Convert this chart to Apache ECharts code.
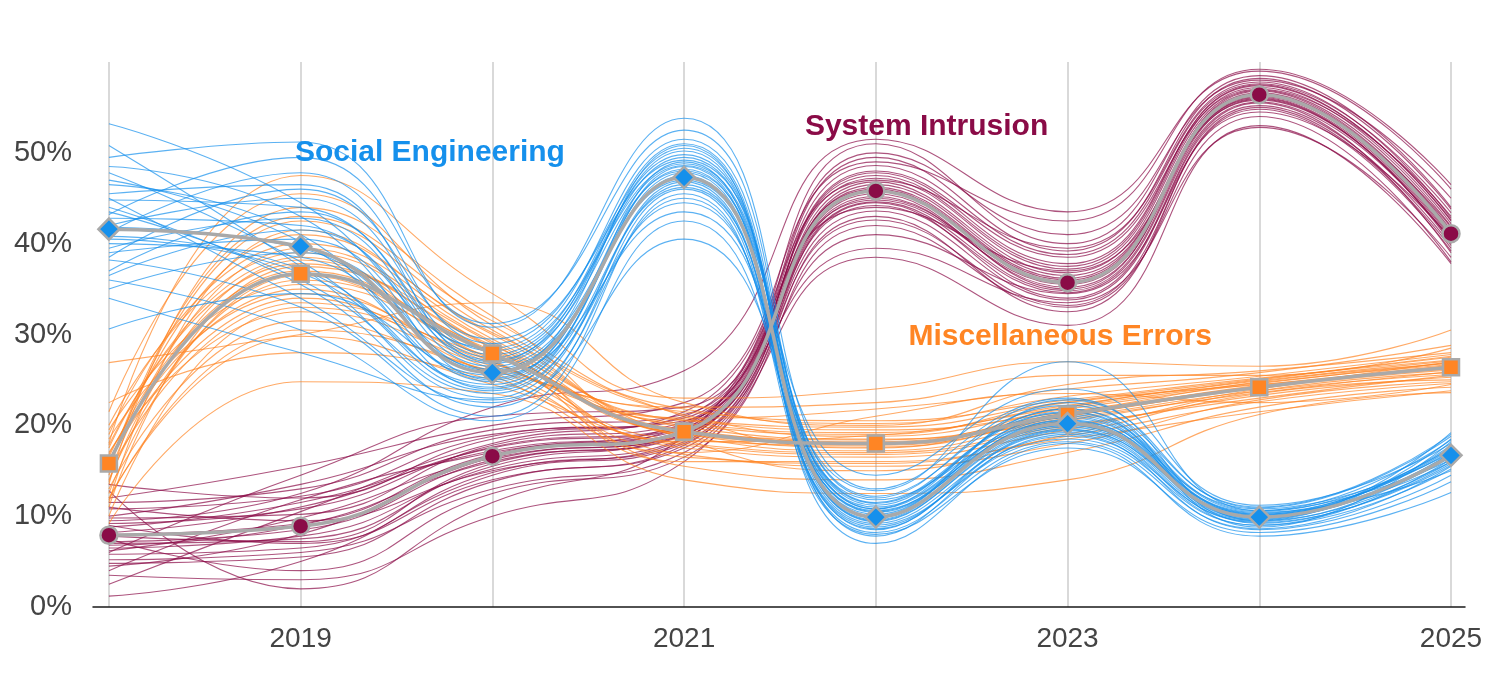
<!DOCTYPE html>
<html>
<head>
<meta charset="utf-8">
<script src="https://cdn.jsdelivr.net/npm/echarts@6/dist/echarts.min.js"></script>
<style>
  html, body { margin: 0; padding: 0; background: #fff; }
  #chart { width: 1500px; height: 675px; }
</style>
</head>
<body>
<div id="chart"></div>
<script>
const years = [2018, 2019, 2020, 2021, 2022, 2023, 2024, 2025];
const labelYears = [2019, 2021, 2023, 2025];

// medians (gray lines with markers)
const socialMedian = [41.6, 39.7, 25.8, 47.3, 9.9, 20.2, 9.9, 16.7];
const miscMedian = [15.8, 36.7, 27.9, 19.3, 18.0, 21.2, 24.2, 26.4];
const intrusionMedian = [7.9, 8.9, 16.6, 19.3, 45.8, 35.7, 56.4, 41.1];

// the thin runs around each median
const socialRuns = [
  [53.2, 44.5, 28.5, 51.5, 11.5, 21.5, 10.5, 17.5],
  [49.5, 51.2, 30.8, 53.8, 13.0, 23.0, 9.5, 18.5],
  [47.8, 38.0, 24.5, 48.5, 8.5, 19.5, 10.2, 16.0],
  [45.5, 46.5, 27.0, 49.8, 12.2, 22.2, 11.0, 19.0],
  [44.0, 35.5, 22.0, 46.0, 9.0, 18.5, 9.0, 15.2],
  [42.8, 42.0, 26.5, 47.0, 10.5, 20.8, 10.8, 17.0],
  [41.2, 47.8, 29.0, 50.5, 7.8, 19.0, 8.5, 14.5],
  [40.5, 36.8, 23.8, 44.5, 11.0, 21.0, 9.8, 16.5],
  [39.0, 40.5, 25.0, 48.0, 14.5, 24.0, 11.2, 18.0],
  [38.2, 33.0, 21.0, 45.5, 8.0, 17.5, 8.2, 13.8],
  [37.0, 43.5, 27.8, 51.0, 9.8, 20.0, 10.0, 17.8],
  [36.0, 30.5, 20.5, 42.5, 10.2, 22.5, 9.2, 15.8],
  [35.0, 39.0, 26.0, 47.5, 7.0, 18.0, 7.8, 12.6],
  [34.0, 28.0, 22.8, 40.5, 12.8, 27.0, 10.6, 16.2],
  [46.5, 41.0, 24.0, 49.0, 9.5, 19.8, 9.6, 19.2],
  [30.6, 34.5, 25.5, 43.5, 11.8, 20.5, 10.4, 15.0],
  [43.2, 49.5, 31.2, 52.5, 10.8, 21.8, 8.8, 18.2],
  [50.8, 37.5, 23.0, 46.5, 8.8, 18.8, 9.4, 16.8],
  [44.8, 44.0, 27.5, 49.5, 10.0, 21.2, 10.1, 17.4],
  [42.0, 45.0, 28.2, 48.8, 11.2, 21.8, 10.6, 18.4],
  [40.0, 38.5, 24.8, 47.8, 9.2, 19.2, 9.0, 16.3],
  [43.5, 36.0, 23.5, 46.8, 8.2, 18.2, 8.6, 15.5],
  [39.5, 42.8, 26.8, 50.2, 10.8, 20.2, 10.3, 17.2],
  [47.0, 40.2, 25.2, 48.2, 9.6, 20.6, 9.9, 16.6],
  [38.5, 46.0, 29.5, 49.2, 12.0, 22.8, 10.9, 18.8],
  [45.0, 34.0, 22.5, 45.0, 8.6, 19.4, 9.3, 15.6],
  [41.8, 39.5, 26.2, 47.2, 10.4, 20.4, 9.7, 17.0],
  [36.5, 41.5, 27.2, 48.6, 11.4, 21.4, 10.2, 17.6],
  [48.5, 43.0, 25.8, 50.8, 9.4, 19.6, 9.5, 16.0],
  [40.8, 37.2, 24.2, 46.2, 10.6, 20.0, 10.0, 16.9]
];

const miscRuns = [
  [26.9, 30.0, 33.5, 22.5, 20.0, 24.5, 26.0, 28.0],
  [21.5, 45.5, 31.0, 21.0, 17.5, 22.0, 25.0, 27.5],
  [19.0, 40.0, 29.5, 18.5, 15.0, 19.0, 23.5, 25.0],
  [17.5, 38.5, 27.0, 20.5, 19.5, 21.5, 24.8, 26.8],
  [16.2, 34.0, 25.5, 17.0, 21.0, 23.5, 22.5, 24.5],
  [15.0, 42.5, 30.5, 19.8, 18.5, 20.5, 24.0, 27.0],
  [14.0, 36.0, 28.0, 16.0, 16.0, 18.5, 21.5, 23.8],
  [13.0, 31.5, 26.0, 22.0, 22.5, 25.5, 25.5, 28.5],
  [12.0, 29.8, 24.5, 18.0, 17.0, 20.0, 23.0, 25.5],
  [11.0, 37.5, 29.0, 15.5, 14.0, 17.0, 22.0, 24.2],
  [10.0, 33.0, 27.5, 20.0, 19.0, 22.5, 24.5, 26.2],
  [9.2, 24.8, 23.5, 14.0, 12.5, 14.0, 21.2, 23.6],
  [18.0, 47.5, 34.5, 23.0, 24.0, 27.0, 26.5, 30.5],
  [20.0, 39.0, 28.5, 17.5, 16.5, 19.5, 23.8, 25.8],
  [16.8, 35.0, 26.5, 21.5, 20.5, 22.8, 25.2, 27.2],
  [13.5, 44.0, 32.0, 19.0, 18.0, 21.0, 24.2, 26.6],
  [22.5, 28.0, 25.0, 16.8, 15.5, 18.0, 22.8, 24.8],
  [11.5, 41.5, 30.0, 20.8, 21.8, 24.0, 25.8, 28.8],
  [16.5, 37.0, 28.2, 19.5, 18.2, 21.4, 24.3, 26.5],
  [14.5, 39.5, 29.2, 18.8, 17.2, 20.6, 23.6, 25.9],
  [18.5, 34.5, 26.8, 20.2, 19.2, 22.2, 24.9, 27.1],
  [15.5, 41.0, 30.2, 21.2, 18.8, 21.8, 24.6, 26.9],
  [12.5, 36.5, 27.2, 18.4, 17.8, 20.8, 23.8, 25.6],
  [17.0, 32.5, 26.2, 17.8, 16.8, 19.8, 23.3, 25.3],
  [13.8, 38.2, 28.8, 20.6, 19.8, 22.6, 25.1, 27.6],
  [19.5, 35.5, 27.8, 19.2, 18.4, 21.2, 24.4, 26.3],
  [15.2, 43.0, 31.5, 21.8, 20.2, 23.2, 25.4, 27.8],
  [11.8, 30.5, 25.8, 16.5, 15.8, 18.8, 22.6, 24.6],
  [17.8, 37.8, 28.5, 19.0, 17.6, 21.0, 24.1, 26.1],
  [14.8, 33.5, 27.0, 18.2, 18.9, 22.0, 24.7, 26.7]
];

const intrusionRuns = [
  [13.5, 12.0, 18.5, 21.0, 51.0, 40.0, 58.5, 44.0],
  [12.0, 15.5, 20.0, 22.5, 49.0, 42.5, 59.2, 46.5],
  [11.0, 9.5, 15.0, 18.5, 47.5, 37.5, 57.5, 42.5],
  [10.0, 13.5, 19.0, 20.5, 46.5, 36.5, 56.0, 40.0],
  [9.0, 7.0, 14.0, 17.5, 44.5, 34.0, 55.5, 39.0],
  [8.2, 11.0, 17.5, 19.8, 48.0, 38.5, 57.0, 43.0],
  [7.5, 4.0, 12.5, 16.5, 42.0, 33.0, 54.0, 38.0],
  [6.8, 9.0, 16.0, 19.0, 45.5, 35.0, 56.8, 41.5],
  [6.0, 14.5, 21.0, 22.0, 50.0, 41.0, 58.0, 45.0],
  [5.2, 6.0, 13.0, 17.0, 43.0, 32.5, 55.0, 39.5],
  [4.5, 8.0, 16.5, 20.0, 46.0, 36.0, 56.2, 41.8],
  [3.5, 3.0, 10.0, 16.0, 38.5, 31.0, 53.0, 37.8],
  [2.5, 10.5, 18.0, 21.5, 47.0, 39.5, 57.8, 42.8],
  [1.2, 5.0, 14.5, 18.0, 41.0, 34.5, 54.5, 40.5],
  [12.8, 2.0, 11.5, 18.8, 44.0, 37.0, 55.8, 40.2],
  [9.5, 12.5, 22.0, 26.0, 51.5, 43.5, 59.0, 46.0],
  [7.0, 7.5, 15.5, 19.5, 44.8, 35.5, 56.5, 41.0],
  [4.0, 11.8, 17.0, 20.2, 39.5, 33.5, 52.8, 38.5],
  [8.0, 9.2, 16.8, 19.4, 46.2, 36.2, 56.6, 41.3],
  [9.8, 10.2, 17.8, 20.4, 47.2, 37.2, 57.2, 42.2],
  [6.5, 7.8, 15.2, 18.6, 44.2, 34.6, 55.6, 40.4],
  [10.8, 12.2, 18.8, 20.8, 48.6, 38.8, 57.6, 43.4],
  [5.8, 6.5, 14.8, 18.2, 43.6, 33.8, 55.2, 39.8],
  [8.8, 11.5, 17.2, 19.6, 46.8, 36.8, 56.9, 41.9],
  [7.2, 8.5, 16.2, 19.2, 45.2, 35.2, 56.1, 40.8],
  [11.5, 13.0, 19.5, 21.2, 49.5, 39.2, 58.2, 43.8],
  [4.8, 5.5, 13.8, 17.8, 42.6, 33.2, 54.8, 39.2],
  [9.2, 10.8, 17.6, 20.0, 47.8, 37.8, 57.4, 42.6],
  [6.2, 9.8, 16.4, 19.0, 45.0, 35.8, 56.3, 41.2],
  [7.8, 7.2, 15.8, 18.9, 44.6, 34.8, 55.9, 40.6]
];

const BLUE = '#1590ec';
const ORANGE = '#ff8524';
const MAROON = '#8a0b47';
const GRAY = '#a9a9a9';
const FONT = '"Liberation Sans", Arial, sans-serif';

const toPairs = vals => years.map((y, i) => [y, vals[i]]);

const runSeries = (runs, color) => runs.map(r => ({
  type: 'line',
  data: toPairs(r),
  smooth: 0.5,
  showSymbol: false,
  silent: true,
  clip: false,
  z: 2,
  lineStyle: { color: color, width: 1.1, opacity: 0.7 }
}));

const medianSeries = (vals, color, symbol, size, label, coord) => ({
  type: 'line',
  data: toPairs(vals),
  smooth: 0.5,
  symbol: symbol,
  symbolSize: size,
  showSymbol: true,
  clip: false,
  z: 5,
  lineStyle: { color: GRAY, width: 3.5 },
  itemStyle: { color: color, borderColor: GRAY, borderWidth: 2.5 },
  markPoint: {
    symbol: 'circle',
    symbolSize: 1,
    itemStyle: { color: 'rgba(0,0,0,0)' },
    data: [{ coord: coord, name: label }],
    label: {
      show: true,
      position: 'inside',
      align: 'left',
      verticalAlign: 'middle',
      formatter: '{b}',
      color: color,
      fontFamily: FONT,
      fontWeight: 'bold',
      fontSize: 30
    }
  }
});

const chart = echarts.init(document.getElementById('chart'), null, { renderer: 'canvas' });

chart.setOption({
  animation: false,
  backgroundColor: '#fff',
  grid: { left: 93, right: 35, top: 62, bottom: 68, containLabel: false },
  xAxis: {
    type: 'value',
    min: 2017.917,
    max: 2025.073,
    axisLine: { show: true, lineStyle: { color: '#1a1a1a', width: 1.5 } },
    axisTick: { show: false, customValues: years },
    splitLine: { show: true, lineStyle: { color: '#d9d9d9', width: 2 } },
    axisLabel: {
      customValues: labelYears,
      formatter: v => String(v),
      fontSize: 28,
      color: '#444',
      fontFamily: FONT,
      margin: 18
    }
  },
  yAxis: {
    type: 'value',
    min: 0,
    max: 60,
    interval: 10,
    axisLine: { show: false },
    axisTick: { show: false },
    splitLine: { show: false },
    axisLabel: {
      formatter: v => (v >= 60 ? '' : v + '%'),
      fontSize: 29,
      color: '#444',
      fontFamily: FONT,
      margin: 21
    }
  },
  series: [
    ...runSeries(intrusionRuns, MAROON),
    ...runSeries(miscRuns, ORANGE),
    ...runSeries(socialRuns, BLUE),
    medianSeries(intrusionMedian, MAROON, 'circle', 17, 'System Intrusion', [2021.63, 52.9]),
    medianSeries(miscMedian, ORANGE, 'rect', 16, 'Miscellaneous Errors', [2022.17, 29.8]),
    medianSeries(socialMedian, BLUE, 'diamond', 21, 'Social Engineering', [2018.97, 50.0])
  ]
});

window.addEventListener('resize', () => chart.resize());
</script>
</body>
</html>
